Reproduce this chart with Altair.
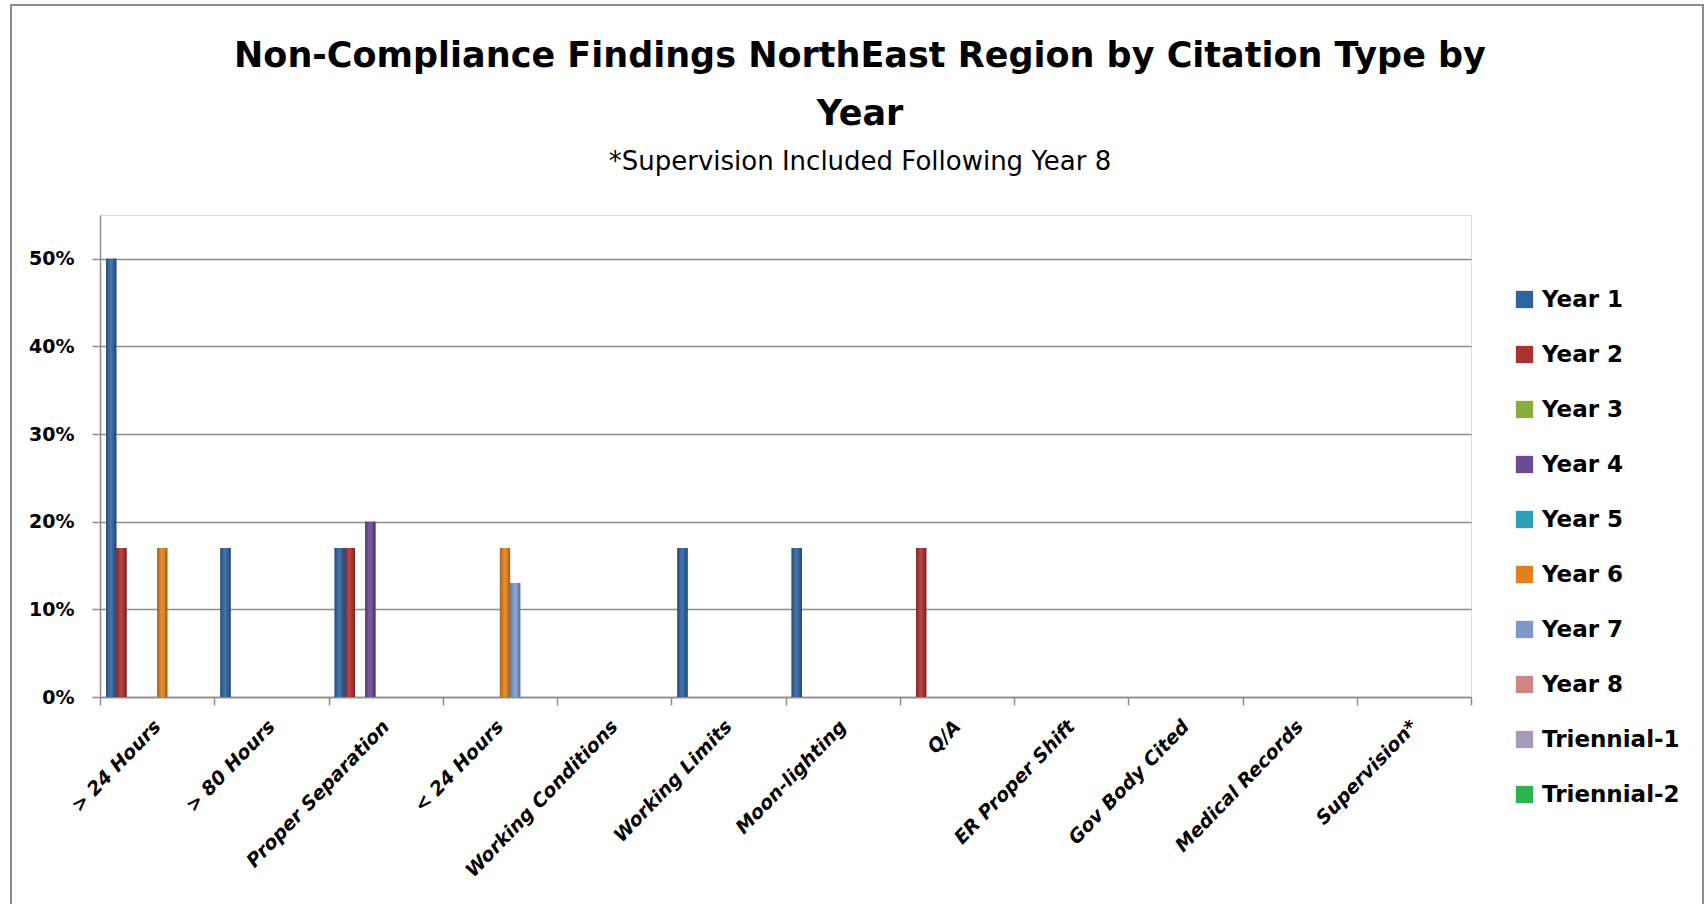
import altair as alt
import pandas as pd

# Citation categories along the x axis
categories = [
    "> 24 Hours", "> 80 Hours", "Proper Separation", "< 24 Hours",
    "Working Conditions", "Working Limits", "Moon-lighting", "Q/A",
    "ER Proper Shift", "Gov Body Cited", "Medical Records", "Supervision*",
]

# Share of findings per category, one list per review period
series_names = [
    "Year 1", "Year 2", "Year 3", "Year 4", "Year 5",
    "Year 6", "Year 7", "Year 8", "Triennial-1", "Triennial-2",
]
year_1 = [0.50, 0.17, 0.17, 0.00, 0.00, 0.17, 0.17, 0.00, 0.00, 0.00, 0.00, 0.00]
year_2 = [0.17, 0.00, 0.17, 0.00, 0.00, 0.00, 0.00, 0.17, 0.00, 0.00, 0.00, 0.00]
year_3 = [0.00, 0.00, 0.00, 0.00, 0.00, 0.00, 0.00, 0.00, 0.00, 0.00, 0.00, 0.00]
year_4 = [0.00, 0.00, 0.20, 0.00, 0.00, 0.00, 0.00, 0.00, 0.00, 0.00, 0.00, 0.00]
year_5 = [0.00, 0.00, 0.00, 0.00, 0.00, 0.00, 0.00, 0.00, 0.00, 0.00, 0.00, 0.00]
year_6 = [0.17, 0.00, 0.00, 0.17, 0.00, 0.00, 0.00, 0.00, 0.00, 0.00, 0.00, 0.00]
year_7 = [0.00, 0.00, 0.00, 0.13, 0.00, 0.00, 0.00, 0.00, 0.00, 0.00, 0.00, 0.00]
year_8 = [0.00, 0.00, 0.00, 0.00, 0.00, 0.00, 0.00, 0.00, 0.00, 0.00, 0.00, 0.00]
triennial_1 = [0.00, 0.00, 0.00, 0.00, 0.00, 0.00, 0.00, 0.00, 0.00, 0.00, 0.00, 0.00]
triennial_2 = [0.00, 0.00, 0.00, 0.00, 0.00, 0.00, 0.00, 0.00, 0.00, 0.00, 0.00, 0.00]

series_values = [year_1, year_2, year_3, year_4, year_5,
                 year_6, year_7, year_8, triennial_1, triennial_2]

series_colors = [
    "#31639F", "#A83232", "#8AAE3E", "#6B4A94", "#2E9DB8",
    "#E0801E", "#7D99C7", "#CE8585", "#A59AB8", "#2DB34F",
]

y_ticks = [0, 0.1, 0.2, 0.3, 0.4, 0.5]

title_lines = ["Non-Compliance Findings NorthEast Region by Citation Type by", "Year"]
subtitle_text = "*Supervision Included Following Year 8"

rows = []
for name, vals in zip(series_names, series_values):
    for cat, v in zip(categories, vals):
        rows.append({"category": cat, "period": name, "share": v})
df = pd.DataFrame(rows)

FONT = "DejaVu Sans"
GRID = "#8c8c8c"

# Plot area geometry (pixels)
W, H = 1371, 482
PAD_L, PAD_T = 100, 215
TOTAL_W, TOTAL_H = 1705, 904
TITLE_CX = 860 - PAD_L


def shade(hex_color, factor):
    """Darken (factor < 1) or lighten (factor > 1) a hex colour."""
    r, g, b = (int(hex_color[i:i + 2], 16) for i in (1, 3, 5))
    if factor <= 1:
        r, g, b = (int(c * factor) for c in (r, g, b))
    else:
        t = factor - 1
        r, g, b = (int(c + (255 - c) * t) for c in (r, g, b))
    return "#{:02x}{:02x}{:02x}".format(r, g, b)


x_enc = alt.X(
    "category:N",
    sort=categories,
    scale=alt.Scale(paddingInner=0, paddingOuter=0),
    axis=alt.Axis(
        title=None,
        labelAngle=-46,
        labelAlign="right",
        labelBaseline="middle",
        labelFont=FONT,
        labelFontSize=19,
        labelFontWeight="bold",
        labelFontStyle="italic",
        labelColor="#000000",
        labelPadding=18,
        labelLimit=0,
        labelOverlap=False,
        tickBand="extent",
        tickSize=8,
        tickColor=GRID,
        tickWidth=1.5,
        domainColor=GRID,
        domainWidth=1.5,
        grid=False,
    ),
)
xoff_enc = alt.XOffset(
    "period:N",
    sort=series_names,
    scale=alt.Scale(domain=series_names, paddingInner=0, paddingOuter=0.6),
)
y_enc = alt.Y(
    "share:Q",
    scale=alt.Scale(domain=[0, 0.55], nice=False),
    axis=alt.Axis(
        title=None,
        values=y_ticks,
        format=".0%",
        labelFont=FONT,
        labelFontSize=19,
        labelFontWeight="bold",
        labelColor="#000000",
        labelPadding=18,
        tickSize=8,
        tickColor=GRID,
        tickWidth=1.5,
        domainColor=GRID,
        domainWidth=1.5,
        grid=True,
        gridColor=GRID,
        gridWidth=1.5,
    ),
)

bars = alt.Chart(df).mark_bar().encode(
    x=x_enc,
    xOffset=xoff_enc,
    y=y_enc,
    color=alt.Color(
        "period:N",
        sort=series_names,
        scale=alt.Scale(domain=series_names, range=series_colors),
        legend=alt.Legend(
            title=None,
            orient="none",
            legendX=1413,
            legendY=73,
            symbolType="square",
            symbolSize=300,
            symbolStrokeWidth=0,
            labelFont=FONT,
            labelFontSize=23,
            labelFontWeight="bold",
            labelColor="#000000",
            labelOffset=6,
            rowPadding=31,
            padding=0,
        ),
    ),
)

# Cylinder-style shading laid over each period's bars
shaded = []
for name, base in zip(series_names, series_colors):
    grad = alt.Gradient(
        gradient="linear", x1=0, x2=1, y1=0, y2=0,
        stops=[
            alt.GradientStop(color=shade(base, 0.78), offset=0),
            alt.GradientStop(color=shade(base, 1.12), offset=0.45),
            alt.GradientStop(color=base, offset=0.7),
            alt.GradientStop(color=shade(base, 0.7), offset=1),
        ],
    )
    shaded.append(
        alt.Chart(df).transform_filter(alt.datum.period == name)
        .mark_bar(color=grad)
        .encode(x=x_enc, xOffset=xoff_enc, y=y_enc)
    )

one_row = pd.DataFrame({"k": [0]})

# Outer frame around the whole chart
frame = alt.Chart(one_row).mark_rect(
    fill=None, stroke="#8c8c8c", strokeWidth=2
).encode(
    x=alt.value(11 - PAD_L),
    x2=alt.value(1703 - PAD_L),
    y=alt.value(5 - PAD_T),
    y2=alt.value(TOTAL_H - PAD_T + 20),
)

# Two-line bold heading and the note beneath it
title_1 = alt.Chart(one_row).mark_text(
    text=title_lines[0], font=FONT, fontSize=35, fontWeight="bold",
    color="#000000", align="center", baseline="middle",
).encode(x=alt.value(TITLE_CX), y=alt.value(56 - PAD_T))

title_2 = alt.Chart(one_row).mark_text(
    text=title_lines[1], font=FONT, fontSize=35, fontWeight="bold",
    color="#000000", align="center", baseline="middle",
).encode(x=alt.value(TITLE_CX), y=alt.value(114 - PAD_T))

subtitle = alt.Chart(one_row).mark_text(
    text=subtitle_text, font=FONT, fontSize=26,
    color="#000000", align="center", baseline="middle",
).encode(x=alt.value(TITLE_CX), y=alt.value(162 - PAD_T))

chart = alt.layer(frame, bars, *shaded, title_1, title_2, subtitle).properties(
    width=W,
    height=H,
    autosize=alt.AutoSizeParams(type="none"),
    padding={"left": PAD_L, "top": PAD_T,
             "right": TOTAL_W - PAD_L - W, "bottom": TOTAL_H - PAD_T - H},
).configure_view(strokeWidth=0).configure(background="#ffffff")

chart.save("out.html", embed_options={"renderer": "svg", "actions": False})
